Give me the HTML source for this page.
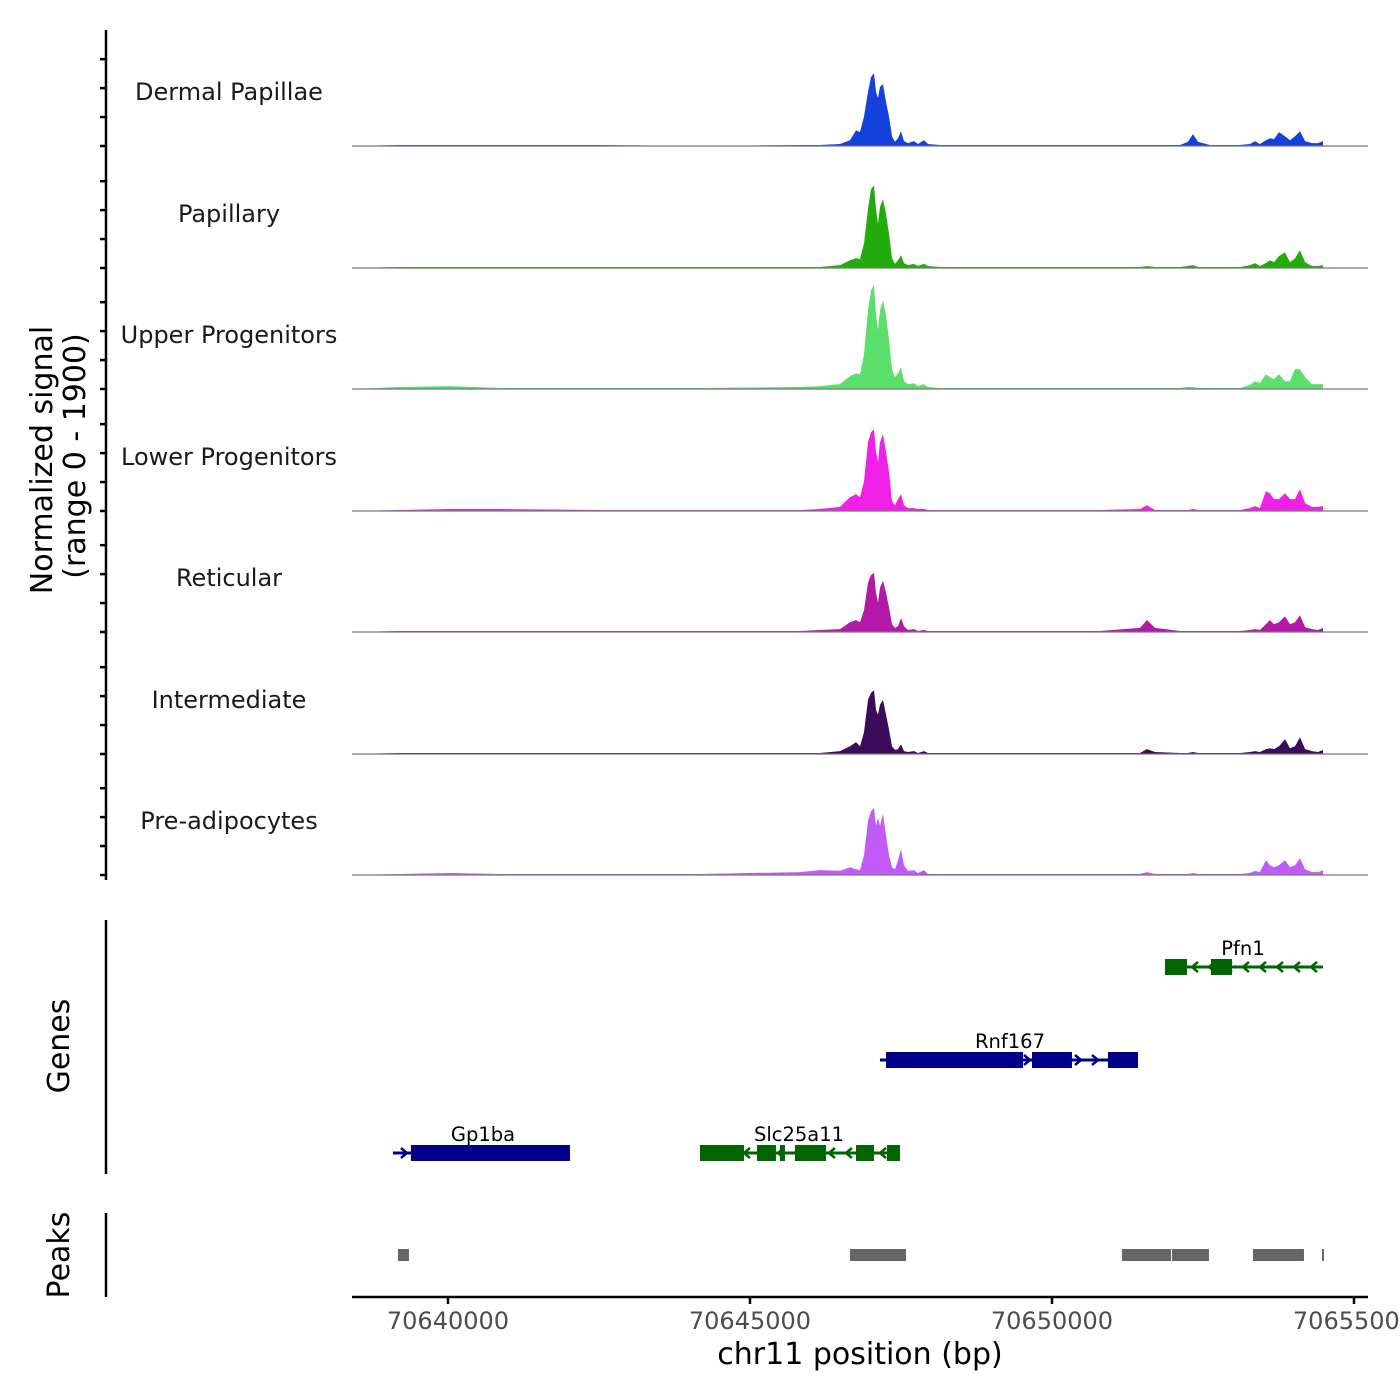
<!DOCTYPE html>
<html><head><meta charset="utf-8"><style>
html,body{margin:0;padding:0;background:#fff;}
svg{display:block;font-family:"DejaVu Sans","Liberation Sans",sans-serif;}
</style></head><body>
<svg id="chart" width="1400" height="1400" viewBox="0 0 1400 1400" xmlns="http://www.w3.org/2000/svg">
<g id="tracks"></g>
<g id="genes"></g>
<g id="peaks"></g>
<g id="axes"></g>
</svg>
<script>
const positions = [70638411,70639205,70640033,70640861,70642517,70644172,70645828,70646159,70646490,70646656,70646755,70646821,70646887,70646954,70647003,70647053,70647086,70647119,70647152,70647202,70647252,70647301,70647351,70647401,70647450,70647500,70647550,70647616,70647715,70647781,70647881,70647947,70648146,70648477,70649139,70650795,70651457,70651573,70651705,70652119,70652251,70652334,70652417,70652616,70653112,70653278,70653361,70653443,70653542,70653608,70653675,70653758,70653858,70653940,70654023,70654106,70654190,70654305,70654404,70654487];
const groups = ["Dermal Papillae","Papillary","Upper Progenitors","Lower Progenitors","Reticular","Intermediate","Pre-adipocytes"];
const groupColors = ["#1440dc","#22ac0c","#5ade6c","#f020e6","#b318a8","#3a0c5a","#c05cf5"];
const sigDermal = [0,17,17,17,17,0,17,17,34,100,270,240,510,935,1190,1260,935,830,1020,1070,765,510,170,70,135,255,85,50,85,35,100,35,17,17,17,17,17,17,17,17,70,205,70,17,17,35,85,35,100,135,120,240,170,100,170,255,85,50,50,85];
const sigPapillary = [0,17,17,17,17,17,17,17,50,135,170,155,425,1020,1360,1430,1020,765,1055,1190,935,595,170,70,135,220,85,50,70,35,70,35,17,17,17,17,17,35,17,17,35,50,17,17,17,50,85,35,85,135,100,205,270,100,170,305,100,35,35,50];
const sigUpper = [0,35,50,17,17,17,35,50,85,220,270,255,595,1360,1700,1800,1275,1020,1360,1530,1275,850,340,205,270,375,135,85,100,50,85,35,17,17,17,17,17,17,17,17,35,35,17,17,17,70,135,100,255,205,170,255,135,135,340,340,205,85,85,85];
const sigLower = [0,17,35,35,17,17,17,35,70,240,290,240,510,1190,1360,1410,1020,850,1190,1325,1020,680,170,100,205,290,100,50,50,35,35,17,17,17,17,17,35,100,17,17,17,35,17,17,17,50,85,50,340,305,205,205,305,205,205,375,135,70,70,85];
const sigReticular = [0,17,17,17,17,17,17,35,50,170,205,170,375,850,985,1020,680,510,765,885,680,425,135,70,100,240,100,35,50,17,35,17,17,17,17,17,70,205,70,17,17,17,17,17,17,35,50,35,135,205,135,170,270,135,170,290,85,50,35,70];
const sigIntermediate = [0,17,17,17,17,17,17,17,50,135,205,135,375,935,1055,1100,765,680,850,935,680,425,135,70,85,170,50,35,50,17,50,17,17,17,17,17,17,85,35,17,17,35,17,17,17,35,50,35,85,100,85,135,255,100,135,290,85,50,35,70];
const sigPreadipo = [0,17,35,17,17,17,50,85,70,135,100,85,340,935,1100,1160,850,985,850,1055,680,340,135,100,255,440,170,70,85,35,85,17,17,17,17,17,17,50,17,17,17,35,17,17,17,35,70,50,255,170,135,170,255,135,170,290,100,50,50,85];
const xTicks = [70640000,70645000,70650000,70655000];
const geneNames = ["Pfn1","Rnf167","Gp1ba","Slc25a11"];
const geneStart = [70651871,70647152,70639089,70644172];
const geneEnd = [70654487,70651424,70642020,70647483];
const geneStrand = [-1,1,1,-1];
const geneRow = [0,1,2,2];
const geneColor = ["#006400","#00008b","#00008b","#006400"];
const geneExons = [
  [[70651871,70652235],[70652632,70652980]],
  [[70647252,70649520],[70649669,70650331],[70650927,70651424]],
  [[70639387,70642020]],
  [[70644172,70644901],[70645116,70645430],[70645497,70645579],[70645745,70646258],[70646755,70647053],[70647268,70647483]]
];
const peakStart = [70639172,70646656,70651159,70651986,70653328,70654470];
const peakEnd = [70639354,70647583,70651970,70652599,70654172,70654503];

const NS="http://www.w3.org/2000/svg";
function mk(tag, attrs, parent){const e=document.createElementNS(NS,tag);for(const k in attrs)e.setAttribute(k,attrs[k]);parent.appendChild(e);return e;}
const X0=352,X1=1368,D0=70638411,D1=70655232;
function xs(bp){return X0+(bp-D0)*(X1-X0)/(D1-D0);}
const YMAX=1900, TRACKH=110;
const baselines=[146,268,389,511,632,754,875];
function ys(v,i){return baselines[i]-v*TRACKH/YMAX;}
const series=[sigDermal,sigPapillary,sigUpper,sigLower,sigReticular,sigIntermediate,sigPreadipo];
const tracks=document.getElementById('tracks');
series.forEach((s,i)=>{
  let d="M"+xs(positions[0])+","+baselines[i];
  s.forEach((v,j)=>{d+=" L"+xs(positions[j]).toFixed(1)+","+ys(v,i).toFixed(1);});
  d+=" L"+xs(positions[positions.length-1])+","+baselines[i]+" Z";
  const p=mk('path',{d:d,fill:groupColors[i]},tracks);
  
  
  const bl=mk('line',{x1:X0,x2:X1,y1:baselines[i],y2:baselines[i],stroke:'#777',"stroke-width":1.2},tracks);
  
  
  const t=mk('text',{x:229,y:baselines[i]-46,"text-anchor":"middle","font-size":24,fill:"#1a1a1a"},tracks);
  t.textContent=groups[i];
  
  
});
const rowY=[967,1060,1153];
const genes=document.getElementById('genes');
geneNames.forEach((g,i)=>{
  const y=rowY[geneRow[i]], c=geneColor[i];
  const a=xs(geneStart[i]), b=xs(geneEnd[i]);
  const ln=mk('line',{x1:a,x2:b,y1:y,y2:y,stroke:c,"stroke-width":3},genes);
  
  
  for(let x=a+12;x<b-6;x+=17){
    const dir=geneStrand[i];
    const ch=mk('path',{d:`M${x-4*dir},${y-5} L${x+2*dir},${y} L${x-4*dir},${y+5}`,stroke:c,"stroke-width":2.5,fill:"none"},genes);
    
    
  }
  geneExons[i].forEach(ex=>{
    const r=mk('rect',{x:xs(ex[0]),y:y-8,width:Math.max(2,xs(ex[1])-xs(ex[0])),height:16,fill:c},genes);
    
    
  });
  const t=mk('text',{x:(a+b)/2,y:y-12,"text-anchor":"middle","font-size":19.5,fill:"#000"},genes);
  if(g==="Pfn1"){t.setAttribute('x',1243);}
  if(g==="Rnf167"){t.setAttribute('x',1010);}
  if(g==="Gp1ba"){t.setAttribute('x',483);}
  if(g==="Slc25a11"){t.setAttribute('x',799);}
  t.textContent=g;
  
  
});
const peaks=document.getElementById('peaks');
peakStart.forEach((s,i)=>{
  const r=mk('rect',{x:xs(s),y:1249,width:Math.max(1.5,xs(peakEnd[i])-xs(s)),height:12,fill:"#666"},peaks);
  
  
});
const axes=document.getElementById('axes');
function L(x1,y1,x2,y2,name,w){const l=mk('line',{x1,y1,x2,y2,stroke:'#000',"stroke-width":w||2.5},axes);return l;}
L(106,30,106,880,'signal-y-axis');
baselines.forEach((b,i)=>{
  [0,500,1000,1500].forEach(v=>{L(100,ys(v,i),106,ys(v,i),'y-tick',2.5);});
});
L(106,920,106,1174,'genes-axis');
L(106,1213,106,1297,'peaks-axis');
L(352,1297,1368,1297,'x-axis');
xTicks.forEach(v=>{
  L(xs(v),1297,xs(v),1304,'x-tick',2.5);
  const t=mk('text',{x:xs(v),y:1329,"text-anchor":"middle","font-size":24,fill:"#4d4d4d"},axes);
  t.textContent=String(v);
  
  
});
function T(txt,x,y,size,rot,name){const t=mk('text',{x,y,"text-anchor":"middle","font-size":size,fill:"#000"},axes);if(rot)t.setAttribute('transform',`rotate(-90 ${x} ${y})`);t.textContent=txt;return t;}
T("chr11 position (bp)",860,1364,30,false,'x-axis-title');
T("Normalized signal",52,460,30,true,'y-axis-title');
T("(range 0 - 1900)",85,456,30,true,'y-axis-subtitle');
T("Genes",69,1046,30,true,'genes-axis-title');
T("Peaks",69,1255,30,true,'peaks-axis-title');
</script>
</body></html>
